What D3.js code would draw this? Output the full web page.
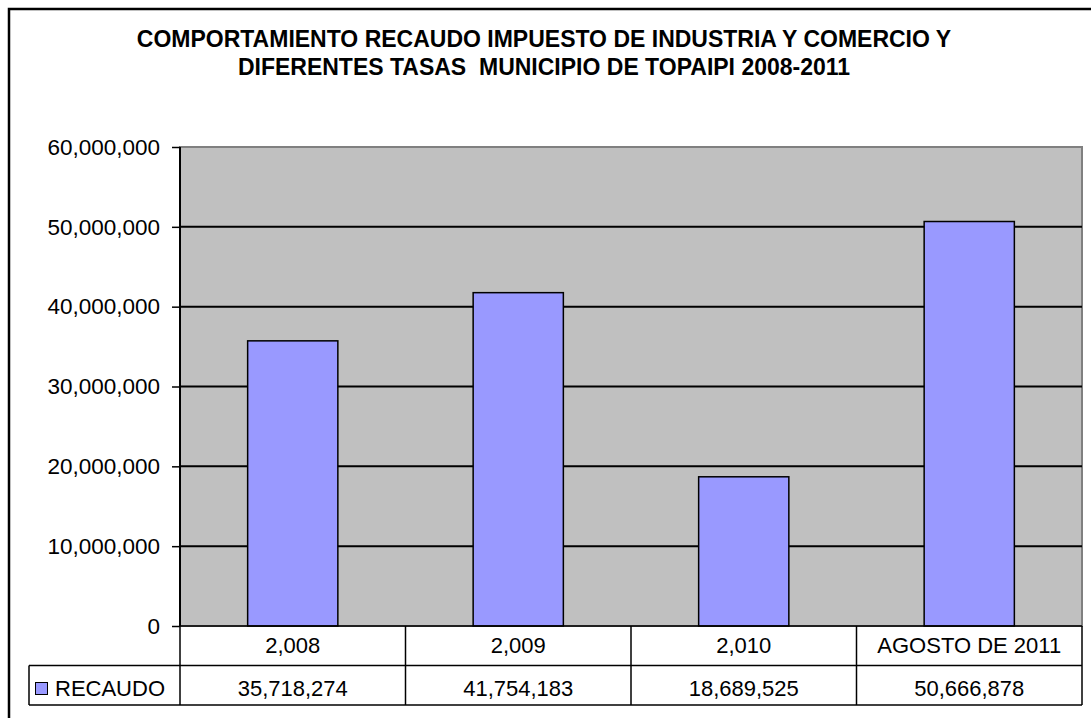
<!DOCTYPE html>
<meta charset="utf-8">
<style>
  body { margin: 0; background: white; }
  svg { display: block; font-family: "Liberation Sans", Arial, sans-serif; }
  .y-axis path { display: none; }
  .y-axis line { stroke: black; stroke-width: 1.5px; }
  .y-axis text { font-size: 22.5px; fill: black; }
  .grid line { stroke: black; stroke-width: 2px; }
  .tbl line { stroke: black; stroke-width: 1.5px; }
  .tbl text { font-size: 22px; fill: black; }
  .title { white-space: pre; }
</style>
<body>
<div id="chart"></div>
<script src="https://d3js.org/d3.v7.min.js"></script>
<script>
  var categories = ["2,008", "2,009", "2,010", "AGOSTO DE 2011"];
  var recaudo = [35718274, 41754183, 18689525, 50666878];
  var seriesName = "RECAUDO";
  var yTicks = [0, 10000000, 20000000, 30000000, 40000000, 50000000, 60000000];
  var titleLines = ["COMPORTAMIENTO RECAUDO IMPUESTO DE INDUSTRIA Y COMERCIO Y",
                    "DIFERENTES TASAS  MUNICIPIO DE TOPAIPI 2008-2011"];

  var W = 1091, H = 718;
  var plot = {left: 180, right: 1082, top: 147, bottom: 626};
  var rowH = 39.5;

  var svg = d3.select("#chart").append("svg")
      .attr("width", W)
      .attr("height", H);

  // outer chart border (runs past the right and bottom of the picture)
  svg.append("rect")
      .attr("x", 9).attr("y", 9)
      .attr("width", W + 20).attr("height", H + 20)
      .attr("fill", "white")
      .attr("stroke", "black")
      .attr("stroke-width", 2.5);

  // title
  svg.append("g").selectAll("text")
      .data(titleLines)
      .enter().append("text")
      .attr("class", "title")
      .attr("x", 544)
      .attr("y", function(d, i) { return 47 + i * 28; })
      .attr("text-anchor", "middle")
      .attr("font-size", "23px")
      .attr("font-weight", "bold")
      .text(function(d) { return d; });

  var x = d3.scaleBand().domain(categories).range([plot.left, plot.right]);
  var y = d3.scaleLinear().domain([0, 60000000]).range([plot.bottom, plot.top]);

  // plot background
  svg.append("rect")
      .attr("x", plot.left).attr("y", plot.top)
      .attr("width", plot.right - plot.left)
      .attr("height", plot.bottom - plot.top)
      .attr("fill", "#c0c0c0")
      .attr("stroke", "#808080")
      .attr("stroke-width", 2);

  // gridlines
  svg.append("g").attr("class", "grid")
    .selectAll("line")
    .data(yTicks.slice(1, -1))
    .enter().append("line")
      .attr("x1", plot.left).attr("x2", plot.right)
      .attr("y1", function(d) { return y(d); })
      .attr("y2", function(d) { return y(d); });

  // bars
  var barW = x.bandwidth() * 0.4;
  svg.append("g").selectAll("rect")
      .data(recaudo)
      .enter().append("rect")
      .attr("x", function(d, i) { return x(categories[i]) + (x.bandwidth() - barW) / 2; })
      .attr("y", function(d) { return y(d); })
      .attr("width", barW)
      .attr("height", function(d) { return y(0) - y(d); })
      .attr("fill", "#9999ff")
      .attr("stroke", "black")
      .attr("stroke-width", 1.5);

  // y axis
  svg.append("g")
      .attr("class", "y-axis")
      .attr("transform", "translate(" + plot.left + ",0)")
      .call(d3.axisLeft(y).tickValues(yTicks).tickSize(8).tickPadding(12)
            .tickFormat(function(d) { return d === 0 ? "0" : d3.format(",")(d); }));

  svg.append("line")
      .attr("x1", plot.left).attr("x2", plot.left)
      .attr("y1", plot.top).attr("y2", plot.bottom)
      .attr("stroke", "black").attr("stroke-width", 2);

  // data table
  var tbl = svg.append("g").attr("class", "tbl");
  var r1 = plot.bottom, r2 = plot.bottom + rowH, r3 = plot.bottom + 2 * rowH;
  var legLeft = 29;

  tbl.append("line").attr("x1", plot.left).attr("x2", plot.right).attr("y1", r1).attr("y2", r1).attr("stroke-width", 2);
  tbl.append("line").attr("x1", legLeft).attr("x2", plot.right).attr("y1", r2).attr("y2", r2);
  tbl.append("line").attr("x1", legLeft).attr("x2", plot.right).attr("y1", r3).attr("y2", r3);
  tbl.append("line").attr("x1", legLeft).attr("x2", legLeft).attr("y1", r2).attr("y2", r3);

  var colEdges = categories.map(function(c) { return x(c); }).concat([plot.right]);
  tbl.selectAll(".col")
      .data(colEdges)
      .enter().append("line")
      .attr("class", "col")
      .attr("x1", function(d) { return d; }).attr("x2", function(d) { return d; })
      .attr("y1", r1).attr("y2", r3);

  tbl.selectAll(".cat")
      .data(categories)
      .enter().append("text")
      .attr("class", "cat")
      .attr("x", function(d) { return x(d) + x.bandwidth() / 2; })
      .attr("y", r1 + 27)
      .attr("text-anchor", "middle")
      .text(function(d) { return d; });

  tbl.selectAll(".val")
      .data(recaudo)
      .enter().append("text")
      .attr("class", "val")
      .attr("x", function(d, i) { return x(categories[i]) + x.bandwidth() / 2; })
      .attr("y", r2 + 30)
      .attr("text-anchor", "middle")
      .text(function(d) { return d3.format(",")(d); });

  // legend key
  tbl.append("rect")
      .attr("x", 35.5).attr("y", r2 + 17)
      .attr("width", 12).attr("height", 12)
      .attr("fill", "#9999ff")
      .attr("stroke", "black")
      .attr("stroke-width", 1);
  tbl.append("text")
      .attr("x", 55).attr("y", r2 + 30)
      .text(seriesName);
</script>
</body>
